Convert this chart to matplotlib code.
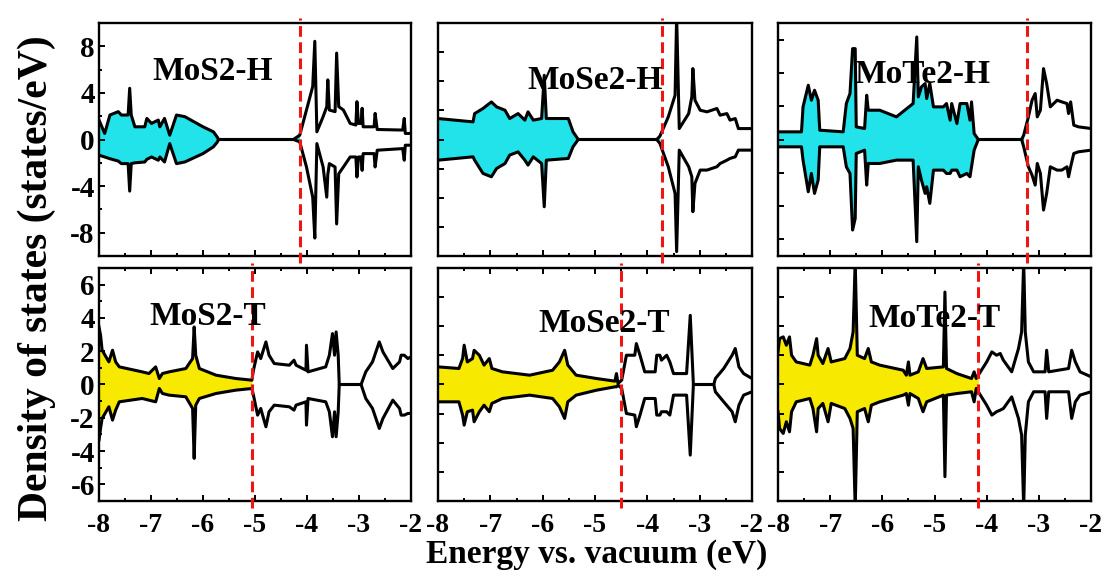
import numpy as np
import matplotlib
matplotlib.use("Agg")
import matplotlib.pyplot as plt
from matplotlib.ticker import MultipleLocator

plt.rcParams['font.family'] = 'Liberation Serif'
plt.rcParams['font.weight'] = 'bold'
plt.rcParams['axes.unicode_minus'] = False

# ---- data (energy in eV, DOS in states/eV) ----
mos2_h_e = [-8.00, -7.89, -7.79, -7.63, -7.57, -7.44, -7.41, -7.38, -7.31, -7.12, -7.08, -6.99,
            -6.86, -6.83, -6.74, -6.64, -6.51, -6.35, -6.00, -5.80, -5.73, -5.70, -4.26, -4.14,
            -4.01, -3.89, -3.85, -3.81, -3.69, -3.62, -3.60, -3.57, -3.46, -3.43, -3.39, -3.30,
            -3.17, -3.06, -3.04, -3.01, -2.96, -2.94, -2.92, -2.71, -2.69, -2.65, -2.16, -2.13,
            -2.11, -2.00]
mos2_h_up = [1.67, 0.52, 2.10, 2.39, 2.10, 2.10, 4.40, 2.10, 1.09, 1.09, 1.81, 1.38,
             1.67, 1.09, 1.81, 0.37, 2.10, 1.96, 1.09, 0.66, 0.23, 0.0, 0.0, 0.37,
             2.53, 4.55, 8.43, 0.66, 1.96, 2.82, 5.12, 2.53, 2.39, 7.42, 2.82, 2.53,
             1.38, 1.24, 3.25, 1.38, 1.38, 2.68, 1.09, 1.09, 2.24, 0.86, 0.81, 1.81,
             0.52, 0.52]
mos2_h_dn = [-1.35, -1.50, -1.65, -1.85, -2.07, -2.07, -4.43, -2.07, -2.00, -1.93, -1.70, -1.50,
             -1.78, -1.50, -1.93, -0.35, -2.07, -1.93, -1.21, -0.63, -0.25, 0.0, 0.0, -0.20,
             -2.36, -4.95, -8.46, -0.35, -2.36, -4.95, -3.00, -2.07, -2.36, -7.25, -2.94, -2.36,
             -1.50, -1.50, -3.22, -1.50, -1.50, -2.65, -1.21, -1.21, -2.36, -0.92, -0.78, -1.78,
             -0.49, -0.49]

mose2_h_e = [-8.00, -7.33, -7.30, -7.14, -6.98, -6.88, -6.72, -6.63, -6.47, -6.34, -6.28, -6.18,
             -6.02, -5.97, -5.93, -5.51, -5.42, -5.32, -3.82, -3.76, -3.60, -3.47, -3.44, -3.39,
             -3.21, -3.15, -3.13, -3.09, -2.99, -2.86, -2.67, -2.61, -2.48, -2.42, -2.32, -2.26,
             -2.00]
mose2_h_up = [1.44, 1.21, 1.78, 2.13, 2.58, 2.24, 2.01, 1.44, 1.78, 1.33, 1.90, 1.33,
              1.44, 4.41, 1.44, 1.44, 0.53, 0.0, 0.0, 0.23, 1.55, 3.04, 8.50, 0.75,
              1.78, 2.93, 4.87, 2.70, 2.01, 1.90, 2.13, 1.67, 1.78, 1.33, 1.44, 0.75,
              0.75]
mose2_h_dn = [-1.42, -1.19, -1.42, -2.33, -2.56, -1.99, -1.65, -1.07, -0.85, -1.42, -1.76, -1.19,
              -1.65, -4.62, -1.42, -1.30, -0.50, 0.0, 0.0, -0.27, -1.87, -3.70, -7.70, -0.73,
              -1.87, -2.56, -4.96, -3.02, -2.10, -2.10, -1.87, -1.65, -1.42, -1.30, -1.19, -0.73,
              -0.73]

mote2_h_e = [-8.00, -7.55, -7.52, -7.42, -7.36, -7.30, -7.23, -7.20, -6.75, -6.69, -6.62, -6.57,
             -6.52, -6.50, -6.34, -6.30, -6.27, -6.05, -5.73, -5.41, -5.34, -5.31, -5.25, -5.18,
             -5.15, -5.09, -5.02, -4.83, -4.77, -4.70, -4.67, -4.57, -4.51, -4.38, -4.32, -4.29,
             -4.24, -4.16, -3.33, -3.29, -3.20, -3.13, -3.07, -3.03, -2.97, -2.91, -2.85, -2.78,
             -2.65, -2.56, -2.46, -2.43, -2.39, -2.33, -2.24, -2.00]
mote2_h_up = [0.46, 0.46, 1.96, 3.26, 2.36, 2.96, 2.36, 0.56, 0.46, 2.16, 2.76, 5.46,
              5.46, 0.76, 0.66, 2.66, 1.76, 1.76, 1.36, 2.16, 6.16, 2.56, 3.16, 3.36,
              2.46, 3.36, 1.96, 1.96, 2.16, 1.16, 2.16, 0.96, 2.16, 2.16, 1.16, 2.26,
              0.36, 0.0, 0.0, 0.26, 1.36, 2.36, 2.76, 1.36, 1.76, 4.26, 3.36, 1.96,
              2.36, 2.26, 2.16, 1.56, 2.26, 0.86, 0.76, 0.66]
mote2_h_dn = [-0.44, -0.44, -1.24, -3.14, -2.04, -3.24, -2.44, -0.44, -0.44, -1.64, -2.04, -5.44,
              -4.74, -0.84, -0.64, -2.74, -1.44, -1.44, -1.24, -1.24, -6.14, -1.64, -2.44, -3.24,
              -2.84, -3.84, -1.84, -1.84, -2.04, -2.04, -1.84, -1.84, -2.24, -2.04, -2.24, -1.64,
              -0.64, 0.0, 0.0, -0.44, -1.64, -2.14, -2.74, -1.44, -2.04, -4.24, -3.24, -1.64,
              -1.84, -1.84, -1.64, -2.24, -1.64, -0.84, -0.74, -0.64]

mos2_t_e = [-8.00, -7.97, -7.94, -7.81, -7.74, -7.68, -7.61, -7.17, -7.04, -6.91, -6.84, -6.78,
            -6.65, -6.33, -6.20, -6.17, -6.14, -6.07, -5.75, -5.37, -5.06, -5.03, -4.95, -4.89,
            -4.79, -4.73, -4.63, -4.34, -4.25, -4.21, -4.02, -4.01, -3.98, -3.64, -3.57, -3.51,
            -3.47, -3.44, -3.40, -3.38, -2.96, -2.87, -2.74, -2.61, -2.54, -2.35, -2.22, -2.19,
            -2.13, -2.06, -2.00]
mos2_t_up = [3.46, 2.96, 2.06, 1.36, 2.06, 1.36, 1.06, 0.76, 0.66, 1.06, 0.36, 0.66,
             0.76, 0.96, 1.56, 3.46, 1.76, 0.96, 0.56, 0.36, 0.26, 0.86, 1.96, 1.56,
             2.56, 1.76, 1.26, 1.16, 1.46, 1.16, 0.86, 2.36, 0.76, 1.06, 1.76, 3.06,
             1.76, 3.16, 1.76, 0.0, 0.0, 0.76, 1.36, 2.56, 1.96, 0.96, 1.36, 1.76,
             1.76, 1.56, 1.66]
mos2_t_dn = [-3.34, -2.64, -2.04, -1.34, -2.14, -1.54, -1.04, -0.84, -0.94, -1.04, -0.24, -0.54,
             -0.64, -0.74, -1.44, -4.44, -1.24, -0.84, -0.54, -0.34, -0.24, -0.64, -1.84, -1.44,
             -2.54, -1.64, -1.24, -1.34, -1.54, -1.24, -1.04, -2.44, -0.84, -1.04, -1.64, -3.14,
             -1.64, -3.14, -1.64, 0.0, 0.0, -0.84, -1.44, -2.64, -2.04, -0.94, -1.44, -1.84,
             -1.84, -1.74, -1.74]

mose2_t_e = [-8.00, -7.60, -7.53, -7.50, -7.44, -7.34, -7.31, -7.21, -7.12, -7.02, -6.97, -6.77,
             -6.25, -5.81, -5.68, -5.58, -5.52, -5.36, -4.97, -4.62, -4.59, -4.56, -4.49, -4.40,
             -4.24, -4.21, -4.14, -4.05, -3.85, -3.82, -3.76, -3.73, -3.63, -3.57, -3.50, -3.25,
             -3.18, -3.12, -2.73, -2.70, -2.54, -2.38, -2.32, -2.25, -2.16, -2.00]
mose2_t_up = [1.21, 1.10, 1.78, 2.70, 1.55, 1.78, 2.35, 2.01, 1.33, 1.78, 1.10, 0.87,
              0.64, 0.98, 1.55, 2.35, 1.33, 0.64, 0.41, 0.23, 0.75, 0.07, 0.30, 2.01,
              2.01, 2.81, 2.01, 0.87, 0.87, 2.01, 2.01, 1.67, 2.01, 1.55, 0.75, 0.75,
              4.75, 0.0, 0.0, 0.41, 1.10, 2.01, 2.47, 1.21, 0.75, 0.41]
mose2_t_dn = [-1.19, -1.19, -2.10, -2.79, -1.87, -1.76, -2.56, -1.87, -1.42, -1.87, -1.30, -0.96,
              -0.73, -0.96, -1.53, -2.33, -1.19, -0.73, -0.39, -0.16, -0.16, -0.05, -0.27, -1.99,
              -2.10, -2.90, -2.10, -0.96, -0.96, -2.10, -2.10, -1.87, -1.87, -2.10, -0.73, -0.73,
              -4.85, 0.0, 0.0, -0.50, -1.19, -1.87, -2.56, -1.42, -0.73, -0.50]

mote2_t_e = [-8.00, -7.97, -7.90, -7.84, -7.78, -7.74, -7.65, -7.39, -7.33, -7.26, -7.23, -7.14,
             -7.04, -6.98, -6.72, -6.62, -6.56, -6.52, -6.48, -6.34, -6.27, -6.21, -6.05, -5.60,
             -5.54, -5.50, -5.47, -5.31, -5.22, -5.15, -4.83, -4.80, -4.77, -4.57, -4.29, -4.24,
             -4.20, -4.16, -4.00, -3.90, -3.81, -3.74, -3.68, -3.52, -3.39, -3.33, -3.29, -3.26,
             -3.20, -3.10, -2.88, -2.85, -2.81, -2.43, -2.37, -2.30, -2.21, -2.00]
mote2_t_up = [2.24, 3.15, 3.27, 2.70, 3.27, 2.01, 1.55, 1.33, 2.01, 3.15, 2.01, 1.44,
              2.47, 1.55, 1.78, 2.47, 3.61, 8.50, 2.01, 1.78, 2.47, 1.55, 1.33, 0.98,
              0.64, 1.55, 0.64, 0.87, 1.78, 1.10, 1.21, 6.35, 1.10, 0.75, 0.41, 0.87,
              0.41, 0.64, 1.55, 2.24, 2.01, 2.13, 1.67, 0.87, 2.47, 3.61, 8.50, 3.61,
              1.55, 0.87, 0.87, 2.35, 0.87, 1.10, 2.35, 1.55, 0.87, 0.53]
mote2_t_dn = [-1.87, -3.02, -3.36, -2.56, -3.25, -1.87, -1.19, -0.96, -1.65, -3.25, -1.65, -1.30,
              -2.56, -1.30, -1.65, -2.33, -3.02, -8.50, -1.87, -1.65, -2.56, -1.42, -1.19, -0.73,
              -0.62, -1.42, -0.62, -0.96, -1.87, -1.19, -0.73, -6.33, -0.73, -0.62, -0.50, -1.19,
              -0.27, -0.50, -1.42, -2.10, -1.87, -1.76, -1.65, -0.85, -2.33, -3.47, -8.50, -3.47,
              -1.19, -0.50, -0.50, -2.33, -0.50, -0.50, -2.33, -1.19, -0.73, -0.50]

labels = ['MoS2-H', 'MoSe2-H', 'MoTe2-H', 'MoS2-T', 'MoSe2-T', 'MoTe2-T']
fermi = [-4.14, -3.72, -3.23, -5.05, -4.51, -4.16]
ylims = [10, 8, 7, 7, 8, 8]
energies = [mos2_h_e, mose2_h_e, mote2_h_e, mos2_t_e, mose2_t_e, mote2_t_e]
ups = [mos2_h_up, mose2_h_up, mote2_h_up, mos2_t_up, mose2_t_up, mote2_t_up]
downs = [mos2_h_dn, mose2_h_dn, mote2_h_dn, mos2_t_dn, mose2_t_dn, mote2_t_dn]

fills = ['#22E3EA', '#22E3EA', '#22E3EA', '#F7EA00', '#F7EA00', '#F7EA00']
label_pos = [(0.365, 0.79), (0.50, 0.755), (0.46, 0.78),
             (0.35, 0.79), (0.53, 0.76), (0.50, 0.785)]

W, H = 1109, 579
lefts = [99, 438, 778]
widths = [312, 314, 313]
tops = [23, 268]
ph = 233

fig = plt.figure(figsize=(W / 100, H / 100), dpi=100)

for i in range(6):
  row, col = divmod(i, 3)
  ax = fig.add_axes([lefts[col] / W, 1 - (tops[row] + ph) / H, widths[col] / W, ph / H])
  e = np.array(energies[i])
  up = np.array(ups[i])
  dn = np.array(downs[i])
  ef = fermi[i]

  ax.fill_between(e, dn, up, where=e <= ef + 1e-6, color=fills[i], linewidth=0, zorder=1)
  ax.plot(e, up, color='black', linewidth=2.2, zorder=2)
  ax.plot(e, dn, color='black', linewidth=2.2, zorder=2)
  ax.axvline(ef, ymin=-0.03, ymax=1.02, color='#EE1515', linewidth=2.2,
             dashes=(3.5, 1.8), clip_on=False, zorder=3)

  ax.set_xlim(-8, -2)
  ax.set_ylim(-ylims[i], ylims[i])
  ax.xaxis.set_major_locator(MultipleLocator(1))
  ax.xaxis.set_minor_locator(MultipleLocator(0.5))
  if i == 0:
    ax.yaxis.set_major_locator(MultipleLocator(4))
    ax.yaxis.set_minor_locator(MultipleLocator(2))
  elif i == 3:
    ax.yaxis.set_major_locator(MultipleLocator(2))
    ax.yaxis.set_minor_locator(MultipleLocator(1))
  else:
    ax.yaxis.set_major_locator(MultipleLocator(2))

  ax.tick_params(which='both', direction='in', width=1.4, top=(row == 1))
  ax.tick_params(which='major', length=4)
  ax.tick_params(which='minor', length=2.5)
  ax.tick_params(axis='x', labelsize=20, pad=9)
  ax.tick_params(axis='y', labelsize=21, pad=3)
  if row == 0:
    ax.tick_params(axis='x', labelbottom=False)
  if col != 0:
    ax.tick_params(axis='y', labelleft=False)
  for s in ax.spines.values():
    s.set_linewidth(1.7)

  lx, ly = label_pos[i]
  ax.text(lx, ly, labels[i], transform=ax.transAxes, ha='center', va='center',
          fontsize=24, fontweight='bold', zorder=4)

fig.text(0.033, 0.52, 'Density of states (states/eV)', rotation=90,
         ha='center', va='center', fontsize=30, fontweight='bold')
fig.text(0.538, 0.028, 'Energy vs. vacuum (eV)', ha='center', va='baseline',
         fontsize=24, fontweight='bold')

fig.savefig('out.png', dpi=100)
